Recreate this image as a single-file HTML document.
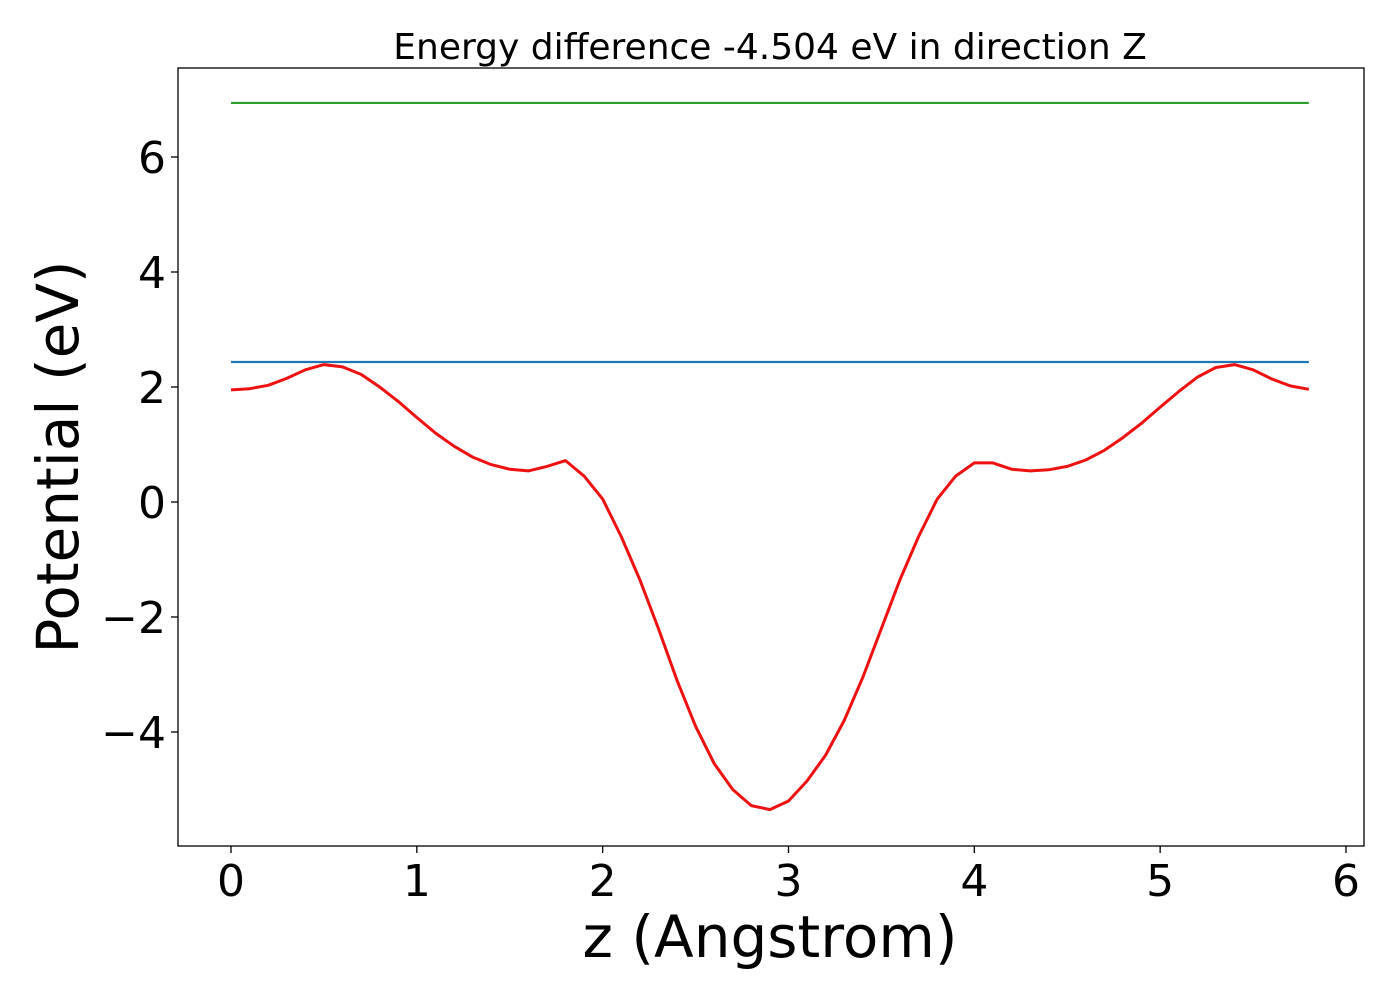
<!DOCTYPE html>
<html><head><meta charset="utf-8"><style>
body{margin:0;background:#fff}
svg{display:block;font-family:"DejaVu Sans","Liberation Sans",sans-serif}
</style></head><body>
<svg id="chart" width="1400" height="1000">
<rect x="0" y="0" width="1400" height="1000" fill="#fff"/>
<g id="plot"></g>
</svg>
<script>
const zValues=[0,0.1,0.2,0.3,0.4,0.5,0.6,0.7,0.8,0.9,1.0,1.1,1.2,1.3,1.4,1.5,1.6,1.7,1.8,1.9,2.0,2.1,2.2,2.3,2.4,2.5,2.6,2.7,2.8,2.9,3.0,3.1,3.2,3.3,3.4,3.5,3.6,3.7,3.8,3.9,4.0,4.1,4.2,4.3,4.4,4.5,4.6,4.7,4.8,4.9,5.0,5.1,5.2,5.3,5.4,5.5,5.6,5.7,5.8];
const potential=[1.95,1.97,2.03,2.15,2.3,2.39,2.35,2.22,2.0,1.75,1.47,1.2,0.97,0.78,0.65,0.57,0.54,0.62,0.72,0.45,0.05,-0.6,-1.35,-2.2,-3.1,-3.9,-4.55,-5.0,-5.28,-5.35,-5.2,-4.85,-4.4,-3.8,-3.05,-2.2,-1.35,-0.6,0.05,0.45,0.68,0.68,0.57,0.54,0.56,0.62,0.73,0.9,1.12,1.37,1.65,1.92,2.17,2.34,2.39,2.3,2.14,2.02,1.96];
const blueLevel=[2.435];
const greenLevel=[6.94];
const xTicks=[0,1,2,3,4,5,6];
const yTicks=[-4,-2,0,2,4,6];
const NS="http://www.w3.org/2000/svg";
const X=v=>231+v*185.83;
const Y=v=>502-v*57.5;
const g=document.getElementById('plot');
function mk(t,a){const e=document.createElementNS(NS,t);for(const k in a)e.setAttribute(k,a[k]);g.appendChild(e);return e;}
const frame=mk('rect',{x:178,y:68,width:1186,height:778,fill:'none',stroke:'#000','stroke-width':1.3});


xTicks.forEach(t=>{
  const l=mk('line',{x1:X(t),x2:X(t),y1:846,y2:853,stroke:'#000','stroke-width':1.3});
  
  
  const tx=mk('text',{x:X(t),y:896,'font-size':44,'text-anchor':'middle'});
  tx.textContent=t;
  
  
});
yTicks.forEach(t=>{
  const l=mk('line',{x1:171,x2:178,y1:Y(t),y2:Y(t),stroke:'#000','stroke-width':1.3});
  
  
  const tx=mk('text',{x:166,y:Y(t)+16,'font-size':44,'text-anchor':'end'});
  tx.textContent=t<0?'\u2212'+(-t):t;
  
  
});
const x0=X(zValues[0]),x1=X(zValues[zValues.length-1]);
const gl=mk('line',{x1:x0,x2:x1,y1:Y(greenLevel[0]),y2:Y(greenLevel[0]),stroke:'#2ca02c','stroke-width':2.2});


const bl=mk('line',{x1:x0,x2:x1,y1:Y(blueLevel[0]),y2:Y(blueLevel[0]),stroke:'#1f77b4','stroke-width':2.2});


const pts=zValues.map((z,i)=>X(z).toFixed(1)+','+Y(potential[i]).toFixed(1)).join(' ');
const pl=mk('polyline',{points:pts,fill:'none',stroke:'#ee1111','stroke-width':3,'stroke-linejoin':'round'});


const title=mk('text',{x:770,y:59,'font-size':36,'text-anchor':'middle'});
title.textContent='Energy difference -4.504 eV in direction Z';


const xl=mk('text',{x:770,y:957,'font-size':58,'text-anchor':'middle'});
xl.textContent='z (Angstrom)';


const yl=mk('text',{x:0,y:0,'font-size':58,'text-anchor':'middle',transform:'translate(78,457) rotate(-90)'});
yl.textContent='Potential (eV)';


</script>
</body></html>
